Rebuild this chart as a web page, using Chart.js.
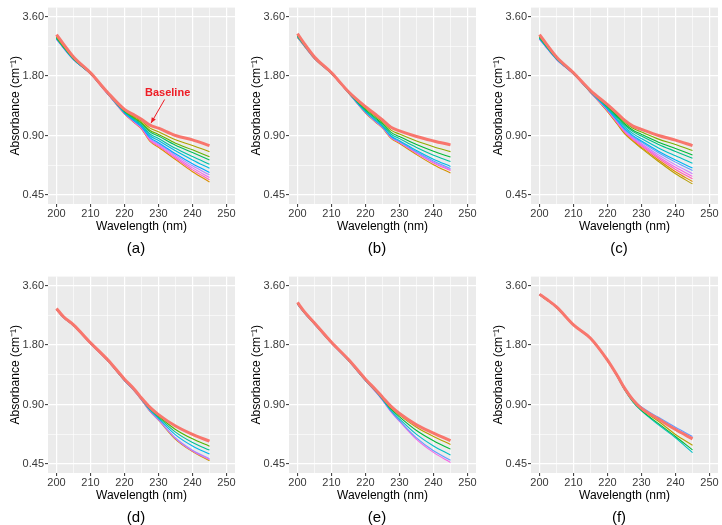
<!DOCTYPE html>
<html>
<head>
<meta charset="utf-8">
<script src="https://cdn.jsdelivr.net/npm/chart.js@4.4.1/dist/chart.umd.min.js"></script>
<style>
    body { margin: 0; background: #fff; width: 722px; height: 525px; position: relative; overflow: hidden; font-family: "Liberation Sans", Arial, sans-serif; }
    canvas { position: absolute; }
    .cap { position: absolute; font-size: 15px; color: #000; transform: translate(-50%, -50%); white-space: nowrap; }
    #baseline { position: absolute; left: 145px; top: 86px; font-size: 11px; line-height: 13px; font-weight: bold; color: #EE1C25; }
</style>
</head>
<body>
<canvas id="pa" width="240" height="256" style="left:0;top:0"></canvas>
<canvas id="pb" width="240" height="256" style="left:241px;top:0"></canvas>
<canvas id="pc" width="240" height="256" style="left:483px;top:0"></canvas>
<canvas id="pd" width="240" height="256" style="left:0;top:269px"></canvas>
<canvas id="pe" width="240" height="256" style="left:241px;top:269px"></canvas>
<canvas id="pf" width="240" height="256" style="left:483px;top:269px"></canvas>

<div class="cap" style="left:136px;top:247px">(a)</div>
<div class="cap" style="left:377px;top:247px">(b)</div>
<div class="cap" style="left:619px;top:247px">(c)</div>
<div class="cap" style="left:136px;top:516px">(d)</div>
<div class="cap" style="left:377px;top:516px">(e)</div>
<div class="cap" style="left:619px;top:516px">(f)</div>
<div id="baseline">Baseline</div>

<script>
const FONT = '"Liberation Sans", Arial, sans-serif';

// longueurs d'onde communes à toutes les courbes (nm)
const wl = [200, 202, 205, 210, 215, 220, 223, 225, 227.5, 230, 235, 240, 245];

// graduations
const xTicks = [200, 205, 210, 215, 220, 225, 230, 235, 240, 245, 250];
const xLabels = ['200', '', '210', '', '220', '', '230', '', '240', '', '250'];
const yTicks = [0.45, 0.636, 0.9, 1.273, 1.8, 2.546, 3.6];
const yLabels = ['0.45', '', '0.90', '', '1.80', '', '3.60'];

// (a) - la première série est la ligne de base
const seriesA = [
    [2.92, 2.62, 2.25, 1.87, 1.49, 1.22, 1.14, 1.087, 1.016, 0.98, 0.90, 0.855, 0.80],
    [2.86, 2.57, 2.22, 1.86, 1.48, 1.21, 1.12, 1.064, 0.981, 0.941, 0.856, 0.802, 0.745],
    [2.84, 2.55, 2.21, 1.86, 1.48, 1.20, 1.105, 1.046, 0.954, 0.912, 0.823, 0.762, 0.703],
    [2.82, 2.54, 2.20, 1.85, 1.48, 1.19, 1.096, 1.036, 0.939, 0.894, 0.803, 0.738, 0.677],
    [2.80, 2.53, 2.20, 1.85, 1.47, 1.19, 1.083, 1.02, 0.916, 0.869, 0.775, 0.704, 0.643],
    [2.79, 2.52, 2.19, 1.85, 1.47, 1.18, 1.073, 1.009, 0.898, 0.849, 0.753, 0.677, 0.614],
    [2.78, 2.51, 2.18, 1.85, 1.47, 1.17, 1.062, 0.996, 0.879, 0.828, 0.728, 0.648, 0.585],
    [2.80, 2.52, 2.19, 1.85, 1.47, 1.17, 1.056, 0.989, 0.868, 0.816, 0.715, 0.632, 0.569],
    [2.76, 2.50, 2.18, 1.84, 1.46, 1.17, 1.05, 0.982, 0.858, 0.805, 0.702, 0.617, 0.551],
    [2.78, 2.52, 2.19, 1.85, 1.47, 1.16, 1.045, 0.976, 0.849, 0.795, 0.691, 0.603, 0.537],
    [2.82, 2.55, 2.21, 1.86, 1.47, 1.16, 1.04, 0.97, 0.84, 0.785, 0.68, 0.59, 0.524]
];
const colorsA = ['#F8766D', '#AEA200', '#64B200', '#00BD5C', '#00C1A7', '#00BADE', '#00A6FF', '#B385FF', '#EF67EB', '#FF63B6', '#DB8E00'];

// (b)
const seriesB = [
    [2.95, 2.63, 2.25, 1.87, 1.50, 1.26, 1.15, 1.08, 0.99, 0.95, 0.89, 0.845, 0.807],
    [2.90, 2.60, 2.23, 1.86, 1.49, 1.236, 1.123, 1.053, 0.958, 0.915, 0.844, 0.79, 0.746],
    [2.88, 2.59, 2.23, 1.86, 1.49, 1.218, 1.103, 1.033, 0.934, 0.889, 0.81, 0.749, 0.70],
    [2.86, 2.58, 2.22, 1.86, 1.49, 1.203, 1.087, 1.017, 0.914, 0.868, 0.783, 0.716, 0.665],
    [2.85, 2.57, 2.22, 1.86, 1.48, 1.189, 1.071, 1.001, 0.895, 0.847, 0.756, 0.683, 0.628],
    [2.84, 2.57, 2.21, 1.85, 1.48, 1.183, 1.064, 0.994, 0.887, 0.838, 0.744, 0.669, 0.612],
    [2.84, 2.56, 2.21, 1.85, 1.48, 1.179, 1.06, 0.99, 0.882, 0.833, 0.737, 0.66, 0.604],
    [2.83, 2.56, 2.21, 1.85, 1.48, 1.176, 1.057, 0.987, 0.878, 0.829, 0.732, 0.654, 0.598],
    [2.82, 2.55, 2.20, 1.85, 1.48, 1.17, 1.05, 0.98, 0.87, 0.82, 0.72, 0.64, 0.581]
];
const colorsB = ['#F8766D', '#93AA00', '#00BA38', '#00C19F', '#00B9E3', '#619CFF', '#DB72FB', '#FF61C3', '#D39200'];

// (c)
const seriesC = [
    [2.92, 2.62, 2.25, 1.87, 1.52, 1.29, 1.16, 1.077, 1.005, 0.967, 0.90, 0.853, 0.80],
    [2.86, 2.58, 2.23, 1.86, 1.51, 1.274, 1.138, 1.053, 0.979, 0.937, 0.863, 0.81, 0.755],
    [2.84, 2.56, 2.22, 1.86, 1.51, 1.262, 1.12, 1.032, 0.958, 0.912, 0.833, 0.774, 0.718],
    [2.82, 2.55, 2.21, 1.86, 1.50, 1.252, 1.107, 1.017, 0.942, 0.894, 0.811, 0.748, 0.691],
    [2.80, 2.54, 2.20, 1.85, 1.50, 1.239, 1.088, 0.996, 0.92, 0.868, 0.779, 0.711, 0.652],
    [2.79, 2.53, 2.20, 1.85, 1.50, 1.226, 1.07, 0.977, 0.899, 0.844, 0.75, 0.676, 0.616],
    [2.78, 2.52, 2.19, 1.85, 1.49, 1.22, 1.062, 0.967, 0.89, 0.833, 0.736, 0.66, 0.599],
    [2.78, 2.52, 2.19, 1.85, 1.49, 1.213, 1.052, 0.955, 0.877, 0.818, 0.718, 0.639, 0.577],
    [2.77, 2.51, 2.19, 1.84, 1.49, 1.206, 1.043, 0.946, 0.867, 0.806, 0.703, 0.621, 0.559],
    [2.78, 2.52, 2.19, 1.84, 1.49, 1.201, 1.035, 0.937, 0.858, 0.796, 0.69, 0.606, 0.543],
    [2.80, 2.53, 2.20, 1.85, 1.49, 1.195, 1.027, 0.928, 0.848, 0.784, 0.677, 0.59, 0.526],
    [2.82, 2.55, 2.21, 1.85, 1.49, 1.19, 1.02, 0.92, 0.84, 0.775, 0.665, 0.576, 0.512]
];
const colorsC = ['#F8766D', '#7CAE00', '#00BA38', '#00C08B', '#00BFC4', '#00B4F0', '#619CFF', '#C77CFF', '#F564E3', '#FF64B0', '#DE8C00', '#B79F00'];

// (d)
const seriesD = [
    [2.76, 2.51, 2.28, 1.85, 1.52, 1.21, 1.07, 0.97, 0.87, 0.80, 0.70, 0.635, 0.587],
    [2.74, 2.50, 2.27, 1.84, 1.51, 1.20, 1.065, 0.965, 0.859, 0.786, 0.673, 0.603, 0.554],
    [2.74, 2.50, 2.27, 1.84, 1.51, 1.20, 1.06, 0.96, 0.851, 0.776, 0.652, 0.578, 0.529],
    [2.73, 2.49, 2.26, 1.84, 1.51, 1.19, 1.055, 0.956, 0.843, 0.766, 0.632, 0.555, 0.505],
    [2.72, 2.49, 2.26, 1.83, 1.50, 1.19, 1.05, 0.952, 0.834, 0.755, 0.609, 0.528, 0.478],
    [2.73, 2.49, 2.26, 1.83, 1.50, 1.19, 1.05, 0.951, 0.832, 0.752, 0.605, 0.523, 0.473],
    [2.72, 2.49, 2.26, 1.83, 1.50, 1.19, 1.05, 0.95, 0.83, 0.75, 0.60, 0.52, 0.467]
];
const colorsD = ['#F8766D', '#53B400', '#00C094', '#00B6EB', '#A58AFF', '#FB61D7', '#C49A00'];

// (e)
const seriesE = [
    [2.96, 2.66, 2.33, 1.86, 1.52, 1.21, 1.07, 0.98, 0.88, 0.81, 0.71, 0.645, 0.59],
    [2.93, 2.64, 2.31, 1.85, 1.51, 1.20, 1.06, 0.97, 0.865, 0.795, 0.69, 0.62, 0.565],
    [2.92, 2.63, 2.31, 1.85, 1.51, 1.20, 1.055, 0.965, 0.855, 0.78, 0.665, 0.59, 0.535],
    [2.91, 2.63, 2.30, 1.84, 1.50, 1.19, 1.05, 0.955, 0.84, 0.76, 0.635, 0.555, 0.50],
    [2.90, 2.62, 2.30, 1.84, 1.50, 1.19, 1.045, 0.95, 0.83, 0.745, 0.61, 0.525, 0.47],
    [2.90, 2.62, 2.30, 1.84, 1.50, 1.19, 1.04, 0.945, 0.825, 0.74, 0.60, 0.515, 0.458]
];
const colorsE = ['#F8766D', '#B79F00', '#00BA38', '#00BFC4', '#619CFF', '#F564E3'];

// (f)
const seriesF = [
    [3.26, 3.08, 2.81, 2.28, 1.95, 1.51, 1.25, 1.09, 0.95, 0.86, 0.76, 0.672, 0.603],
    [3.25, 3.07, 2.80, 2.28, 1.95, 1.51, 1.26, 1.10, 0.96, 0.875, 0.775, 0.69, 0.62],
    [3.25, 3.07, 2.80, 2.28, 1.95, 1.51, 1.25, 1.09, 0.955, 0.865, 0.765, 0.68, 0.61],
    [3.24, 3.06, 2.80, 2.27, 1.94, 1.50, 1.24, 1.08, 0.94, 0.85, 0.74, 0.635, 0.56],
    [3.24, 3.06, 2.79, 2.27, 1.94, 1.50, 1.24, 1.075, 0.93, 0.84, 0.72, 0.62, 0.53],
    [3.24, 3.06, 2.79, 2.27, 1.94, 1.50, 1.235, 1.07, 0.925, 0.835, 0.71, 0.61, 0.514]
];
const colorsF = ['#F8766D', '#619CFF', '#F564E3', '#B79F00', '#00BA38', '#00BFC4'];

// flèche "Baseline" du panneau (a), en coordonnées de données
const arrowFrom = [231.8, 1.37];
const arrowTo = [227.8, 1.04];

// fond gris du panneau (style ggplot)
const fondPanneau = {
    id: 'fondPanneau',
    beforeDraw(chart) {
        const { ctx, chartArea: a } = chart;
        ctx.save();
        ctx.fillStyle = '#EBEBEB';
        ctx.fillRect(a.left, a.top, a.right - a.left, a.bottom - a.top);
        ctx.restore();
    }
};

const flecheBaseline = {
    id: 'flecheBaseline',
    afterDatasetsDraw(chart) {
        const { ctx } = chart;
        const sx = chart.scales.x, sy = chart.scales.y;
        const x0 = sx.getPixelForValue(arrowFrom[0]), y0 = sy.getPixelForValue(arrowFrom[1]);
        const x1 = sx.getPixelForValue(arrowTo[0]), y1 = sy.getPixelForValue(arrowTo[1]);
        const ang = Math.atan2(y1 - y0, x1 - x0);
        ctx.save();
        ctx.strokeStyle = '#EE1C25';
        ctx.fillStyle = '#EE1C25';
        ctx.lineWidth = 1;
        ctx.beginPath();
        ctx.moveTo(x0, y0);
        ctx.lineTo(x1, y1);
        ctx.stroke();
        ctx.beginPath();
        ctx.moveTo(x1, y1);
        ctx.lineTo(x1 - 6 * Math.cos(ang - 0.4), y1 - 6 * Math.sin(ang - 0.4));
        ctx.lineTo(x1 - 6 * Math.cos(ang + 0.4), y1 - 6 * Math.sin(ang + 0.4));
        ctx.closePath();
        ctx.fill();
        ctx.restore();
    }
};

function construirePanneau(canvasId, series, couleurs, extras) {
    const datasets = series.map((vals, i) => ({
        data: wl.map((w, j) => ({ x: w, y: vals[j] })),
        borderColor: couleurs[i],
        borderWidth: i === 0 ? 3 : 1.1,
        pointRadius: 0,
        cubicInterpolationMode: 'monotone',
        fill: false
    }));

    return new Chart(document.getElementById(canvasId), {
        type: 'line',
        data: { datasets },
        options: {
            responsive: false,
            animation: false,
            layout: { padding: { left: 0, right: 5, top: 6, bottom: 22 } },
            plugins: { legend: { display: false }, tooltip: { enabled: false } },
            scales: {
                x: {
                    type: 'linear', min: 197.5, max: 252.5,
                    afterBuildTicks: s => { s.ticks = xTicks.map(v => ({ value: v })); },
                    afterFit: s => { s.height = 30; },
                    ticks: {
                        autoSkip: false, maxRotation: 0, padding: 0, color: '#3A3A3A',
                        font: { size: 11, family: FONT },
                        callback: (v, i) => xLabels[i]
                    },
                    grid: {
                        color: '#FFFFFF',
                        lineWidth: c => c.index % 2 ? 0.6 : 1.2,
                        tickLength: 3,
                        tickWidth: 1,
                        tickColor: c => c.index % 2 ? 'rgba(0,0,0,0)' : '#333333'
                    },
                    border: { display: false },
                    title: { display: true, text: 'Wavelength (nm)', color: '#000', font: { size: 12, family: FONT }, padding: 0 }
                },
                y: {
                    type: 'logarithmic', min: 0.405, max: 4.0,
                    afterBuildTicks: s => { s.ticks = yTicks.map(v => ({ value: v })); },
                    afterFit: s => { s.width = 48; },
                    ticks: {
                        autoSkip: false, padding: 1, color: '#3A3A3A',
                        font: { size: 11, family: FONT },
                        callback: (v, i) => yLabels[i]
                    },
                    grid: {
                        color: '#FFFFFF',
                        lineWidth: c => c.index % 2 ? 0.6 : 1.2,
                        tickLength: 3,
                        tickWidth: 1,
                        tickColor: c => c.index % 2 ? 'rgba(0,0,0,0)' : '#333333'
                    },
                    border: { display: false },
                    title: { display: true, text: 'Absorbance (cm⁻¹)', color: '#000', font: { size: 12, family: FONT }, padding: { top: 8, bottom: 0 } }
                }
            }
        },
        plugins: [fondPanneau].concat(extras || [])
    });
}

construirePanneau('pa', seriesA, colorsA, [flecheBaseline]);
construirePanneau('pb', seriesB, colorsB);
construirePanneau('pc', seriesC, colorsC);
construirePanneau('pd', seriesD, colorsD);
construirePanneau('pe', seriesE, colorsE);
construirePanneau('pf', seriesF, colorsF);
</script>
</body>
</html>
